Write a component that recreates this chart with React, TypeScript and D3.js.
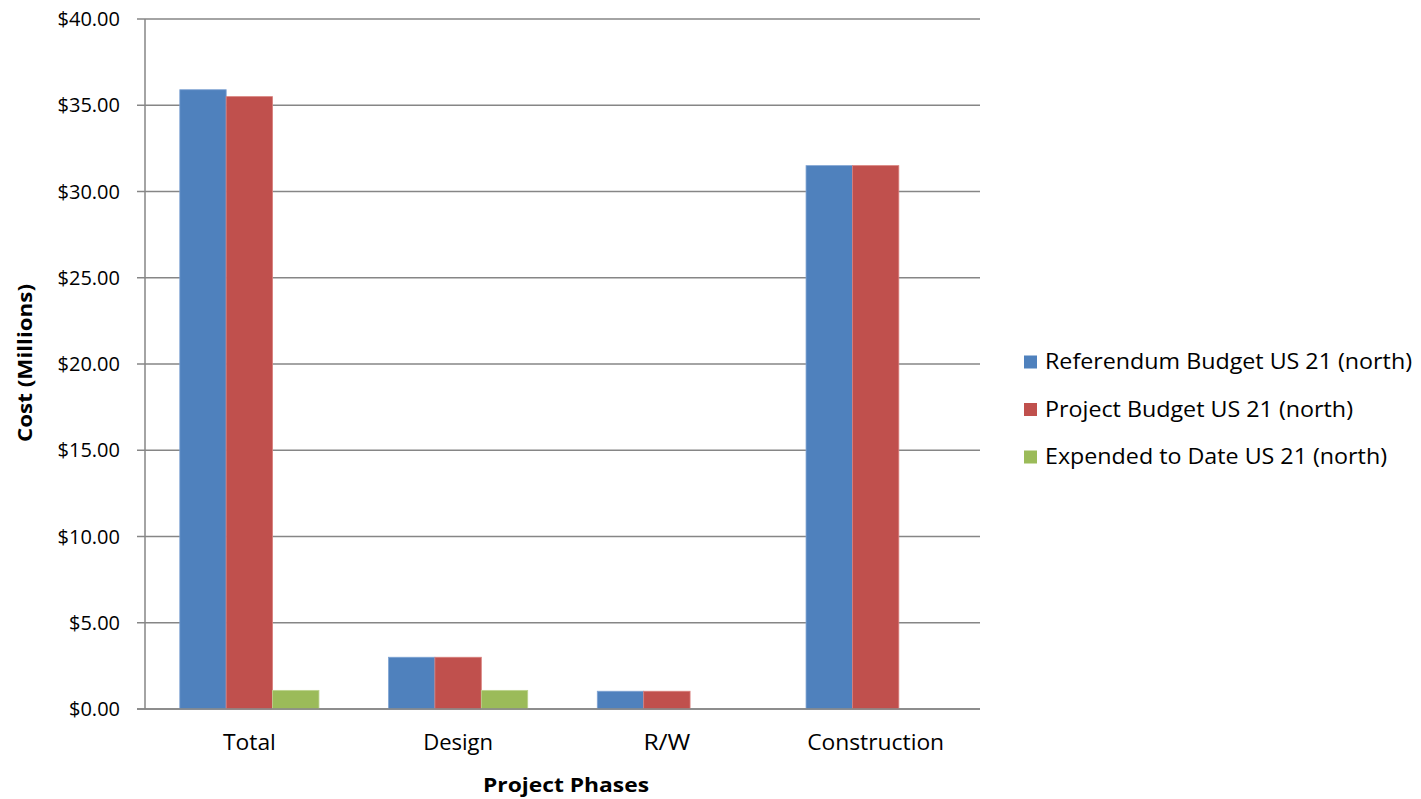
import React from "react";
import * as d3 from "d3";

const categories = ["Total", "Design", "R/W", "Construction"];
const seriesNames = [
  "Referendum Budget US 21 (north)",
  "Project Budget US 21 (north)",
  "Expended to Date US 21 (north)",
];
const referendumBudget = [35.9, 3.0, 1.03, 31.5];
const projectBudget = [35.5, 3.0, 1.03, 31.5];
const expendedToDate = [1.08, 1.08, 0, 0];
const yTicks = [0, 5, 10, 15, 20, 25, 30, 35, 40];
const colors = ["#4F81BD", "#C0504D", "#9BBB59"];
const strokes = ["#7FA3D3", "#D9807D", "#BCD38E"];

// rendered text widths (style only, to mimic the reference font metrics)
const catTextWidth: Record<string, number> = { Total: 53, Design: 70, "R/W": 47, Construction: 137 };
const legendTextWidth = [367, 308, 342];

const W = 1421;
const H = 799;
const plot = { left: 145, right: 980, top: 19, bottom: 709 };
const FONT = "'Open Sans', 'Liberation Sans', sans-serif";

export default function App() {
  const seriesValues = [referendumBudget, projectBudget, expendedToDate];
  const y = d3.scaleLinear().domain([0, 40]).range([plot.bottom, plot.top]);
  const x0 = d3.scaleBand<string>().domain(categories).range([plot.left, plot.right]).padding(0);
  const step = x0.bandwidth();
  const groupW = (step * 2) / 3;
  const x1 = d3
    .scaleBand<number>()
    .domain(d3.range(seriesNames.length))
    .range([0, groupW])
    .padding(0);
  const fmt = (v: number) => "$" + d3.format(".2f")(v);

  return (
    <svg
      width={W}
      height={H}
      style={{ position: "absolute", left: 0, top: 0, background: "#fff" }}
      fontFamily={FONT}
    >
      {yTicks.map((t) => (
        <g key={t}>
          <line x1={plot.left} x2={plot.right} y1={y(t)} y2={y(t)} stroke="#868686" strokeWidth={1.5} />
          <line x1={plot.left - 8} x2={plot.left} y1={y(t)} y2={y(t)} stroke="#868686" strokeWidth={1.5} />
          <text x={120} y={y(t)} dy="0.35em" textAnchor="end" fontSize={20} fill="#000">
            {fmt(t)}
          </text>
        </g>
      ))}
      {categories.map((c, ci) => {
        const gx = (x0(c) as number) + (step - groupW) / 2;
        return (
          <g key={c}>
            {seriesValues.map((vals, si) =>
              vals[ci] > 0 ? (
                <rect
                  key={si}
                  x={gx + (x1(si) as number)}
                  y={y(vals[ci])}
                  width={x1.bandwidth()}
                  height={y(0) - y(vals[ci])}
                  fill={colors[si]}
                  stroke={strokes[si]}
                  strokeWidth={0.8}
                />
              ) : null
            )}
          </g>
        );
      })}
      <line x1={plot.left} x2={plot.left} y1={plot.top} y2={plot.bottom} stroke="#868686" strokeWidth={1.5} />
      <line x1={plot.left - 8} x2={plot.right} y1={plot.bottom} y2={plot.bottom} stroke="#868686" strokeWidth={1.5} />
      {categories.map((c) => (
        <text
          key={c}
          x={(x0(c) as number) + step / 2}
          y={743}
          dy="0.35em"
          textAnchor="middle"
          fontSize={21}
          fill="#000"
          textLength={catTextWidth[c]}
          lengthAdjust="spacingAndGlyphs"
        >
          {c}
        </text>
      ))}
      <text
        x={566}
        y={785}
        dy="0.35em"
        textAnchor="middle"
        fontSize={20}
        fontWeight="bold"
        fill="#000"
        textLength={166}
        lengthAdjust="spacingAndGlyphs"
      >
        Project Phases
      </text>
      <text
        transform={`translate(25,363) rotate(-90)`}
        dy="0.35em"
        textAnchor="middle"
        fontSize={20}
        fontWeight="bold"
        fill="#000"
        textLength={158}
        lengthAdjust="spacingAndGlyphs"
      >
        Cost (Millions)
      </text>
      {seriesNames.map((s, i) => {
        const ly = 362 + i * 47.5;
        return (
          <g key={s}>
            <rect x={1024} y={ly - 6.5} width={13} height={13} fill={colors[i]} />
            <text
              x={1045}
              y={ly}
              dy="0.35em"
              fontSize={21}
              fill="#000"
              textLength={legendTextWidth[i]}
              lengthAdjust="spacingAndGlyphs"
            >
              {s}
            </text>
          </g>
        );
      })}
    </svg>
  );
}
